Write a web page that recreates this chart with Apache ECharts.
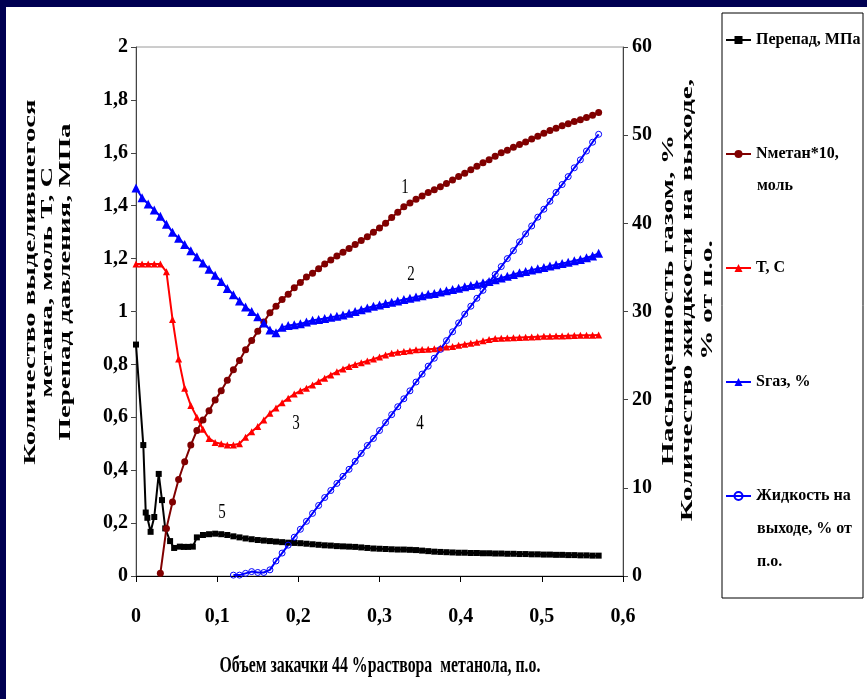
<!DOCTYPE html>
<html>
<head>
<meta charset="utf-8">
<title>Закачка раствора метанола</title>
<script src="https://cdn.jsdelivr.net/npm/echarts@6/dist/echarts.min.js"></script>
<style>
    html, body { margin: 0; padding: 0; background: #fff; }
    /* тёмно-синяя рамка слайда сверху и слева */
    #main { width: 867px; height: 699px; background: #fff; box-shadow: inset 6px 7px 0 #000052; }
</style>
</head>
<body>
<div id="main"></div>
<script type="text/javascript">
// общая сетка по объёму закачки, п.о.
var xGrid = [
    0, 0.0075, 0.015, 0.0225, 0.03, 0.0375, 0.045, 0.0525, 0.06, 0.0675,
    0.075, 0.0825, 0.09, 0.0975, 0.105, 0.1125, 0.12, 0.1275, 0.135, 0.1425,
    0.15, 0.1575, 0.165, 0.1725, 0.18, 0.1875, 0.195, 0.2025, 0.21, 0.2175,
    0.225, 0.2325, 0.24, 0.2475, 0.255, 0.2625, 0.27, 0.2775, 0.285, 0.2925,
    0.3, 0.3075, 0.315, 0.3225, 0.33, 0.3375, 0.345, 0.3525, 0.36, 0.3675,
    0.375, 0.3825, 0.39, 0.3975, 0.405, 0.4125, 0.42, 0.4275, 0.435, 0.4425,
    0.45, 0.4575, 0.465, 0.4725, 0.48, 0.4875, 0.495, 0.5025, 0.51, 0.5175,
    0.525, 0.5325, 0.54, 0.5475, 0.555, 0.5625, 0.57
];

// 5 - перепад давления, МПа (свои точки в начале)
var dpXHead = [0, 0.009, 0.012, 0.014, 0.018, 0.0225, 0.028, 0.032, 0.036, 0.042, 0.047, 0.054, 0.059, 0.064, 0.07];
var dpYHead = [0.875, 0.495, 0.24, 0.22, 0.167, 0.223, 0.386, 0.287, 0.18, 0.132, 0.106, 0.111, 0.11, 0.11, 0.111];
var dpYTail = [ // от 0.075 по сетке
    0.146, 0.155, 0.158, 0.16, 0.158, 0.155, 0.15, 0.146, 0.142, 0.139,
    0.136, 0.134, 0.132, 0.13, 0.128, 0.126, 0.125, 0.124, 0.122, 0.12,
    0.118, 0.116, 0.115, 0.113, 0.112, 0.111, 0.11, 0.108, 0.106, 0.104,
    0.103, 0.102, 0.101, 0.1, 0.1, 0.099, 0.098, 0.096, 0.094, 0.092,
    0.091, 0.09, 0.089, 0.088, 0.088, 0.087, 0.087, 0.086, 0.086, 0.085,
    0.085, 0.084, 0.084, 0.083, 0.083, 0.082, 0.082, 0.081, 0.081, 0.08,
    0.08, 0.079, 0.079, 0.078, 0.078, 0.077, 0.077
];

// 1 - Nметан*10, моль
var nMetan = [
    null, null, null, null, 0.01, 0.18, 0.28, 0.365, 0.432, 0.495,
    0.55, 0.59, 0.625, 0.665, 0.70, 0.74, 0.78, 0.815, 0.855, 0.89,
    0.925, 0.96, 0.995, 1.02, 1.045, 1.065, 1.09, 1.11, 1.13, 1.145,
    1.162, 1.18, 1.195, 1.21, 1.224, 1.238, 1.253, 1.268, 1.283, 1.30,
    1.316, 1.334, 1.355, 1.375, 1.396, 1.41, 1.424, 1.437, 1.45, 1.46,
    1.472, 1.484, 1.497, 1.51, 1.523, 1.536, 1.549, 1.562, 1.574, 1.587,
    1.6, 1.61, 1.621, 1.631, 1.641, 1.652, 1.663, 1.674, 1.684, 1.693,
    1.702, 1.71, 1.718, 1.725, 1.733, 1.742, 1.752
];

// 3 - T, C
var temp = [
    1.18, 1.18, 1.18, 1.18, 1.18, 1.15, 0.97, 0.82, 0.71, 0.645,
    0.60, 0.555, 0.52, 0.505, 0.50, 0.495, 0.495, 0.50, 0.525, 0.545,
    0.565, 0.59, 0.615, 0.635, 0.655, 0.672, 0.688, 0.70, 0.71, 0.722,
    0.735, 0.748, 0.76, 0.772, 0.783, 0.792, 0.80, 0.806, 0.813, 0.82,
    0.828, 0.836, 0.842, 0.846, 0.849, 0.852, 0.855, 0.856, 0.857, 0.859,
    0.862, 0.866, 0.868, 0.872, 0.876, 0.88, 0.884, 0.889, 0.894, 0.898,
    0.899, 0.9, 0.901, 0.902, 0.903, 0.904, 0.905, 0.906, 0.906, 0.907,
    0.907, 0.908, 0.909, 0.91, 0.91, 0.91, 0.911
];

// 2 - Sгаз, %
var sGas = [
    44.0, 42.9, 42.2, 41.5, 40.8, 39.9, 39.0, 38.3, 37.6, 36.9,
    36.2, 35.5, 34.8, 34.1, 33.4, 32.6, 31.9, 31.2, 30.5, 30.0,
    29.4, 28.7, 27.9, 27.6, 28.2, 28.4, 28.5, 28.6, 28.8, 29.0,
    29.1, 29.2, 29.35, 29.45, 29.6, 29.8, 30.0, 30.2, 30.4, 30.6,
    30.75, 30.9, 31.05, 31.2, 31.35, 31.5, 31.65, 31.8, 31.95, 32.05,
    32.2, 32.35, 32.5, 32.65, 32.8, 32.95, 33.1, 33.25, 33.4, 33.6,
    33.8, 34.0, 34.2, 34.4, 34.55, 34.7, 34.85, 35.0, 35.15, 35.3,
    35.45, 35.6, 35.75, 35.9, 36.1, 36.3, 36.6
];

// 4 - жидкость на выходе, % от п.о.
var liquid = [
    null, null, null, null, null, null, null, null, null, null,
    null, null, null, null, null, null, 0.1, 0.1, 0.3, 0.5,
    0.4, 0.4, 0.7, 1.7, 2.6, 3.5, 4.4, 5.3, 6.2, 7.1,
    8.0, 8.9, 9.7, 10.5, 11.3, 12.1, 13.0, 13.9, 14.8, 15.6,
    16.5, 17.4, 18.3, 19.2, 20.1, 21.0, 22.0, 22.9, 23.8, 24.7,
    25.7, 26.7, 27.7, 28.7, 29.7, 30.6, 31.5, 32.4, 33.3, 34.2,
    35.1, 36.0, 36.9, 37.9, 38.8, 39.7, 40.7, 41.6, 42.5, 43.5,
    44.4, 45.3, 46.3, 47.2, 48.2, 49.2, 50.1
];

var names = ['Перепад, МПа', 'Nметан*10, моль', 'T, C', 'Sгаз, %', 'Жидкость на выходе, % от п.о.'];
var legendFirstLine = {
    'Перепад, МПа': 'Перепад, МПа',
    'Nметан*10, моль': 'Nметан*10,',
    'T, C': 'T, C',
    'Sгаз, %': 'Sгаз, %',
    'Жидкость на выходе, % от п.о.': 'Жидкость на'
};

function pairs(xs, ys) {
    var out = [];
    for (var i = 0; i < ys.length; i++) {
        if (ys[i] !== null) out.push([xs[i], ys[i]]);
    }
    return out;
}

function comma(v) {
    return String(parseFloat(v.toFixed(1))).replace('.', ',');
}

var dpX = dpXHead.concat(xGrid.slice(10));
var dpY = dpYHead.concat(dpYTail);

var serif = 'Liberation Serif';
var tickFont = { fontFamily: serif, fontWeight: 'bold', fontSize: 20, color: '#000' };
var legendFont = 'bold 16px "Liberation Serif"';

var myChart = echarts.init(document.getElementById('main'));

var option = {
    backgroundColor: 'transparent',
    animation: false,
    grid: { left: 136, top: 47, right: 244, bottom: 123, show: true, borderColor: '#9a9a9a', borderWidth: 1 },
    xAxis: {
        type: 'value', min: 0, max: 0.6, interval: 0.1,
        axisLine: { lineStyle: { color: '#000', width: 1 } },
        axisTick: { show: true, inside: false, length: 6, lineStyle: { color: '#000' } },
        axisLabel: Object.assign({ margin: 31, formatter: comma }, tickFont),
        splitLine: { show: false }
    },
    yAxis: [{
        type: 'value', min: 0, max: 2, interval: 0.2, position: 'left',
        axisLine: { show: true, lineStyle: { color: '#444' } },
        axisTick: { show: true, length: 5, lineStyle: { color: '#444' } },
        axisLabel: Object.assign({ margin: 8, formatter: comma }, tickFont),
        splitLine: { show: false }
    }, {
        type: 'value', min: 0, max: 60, interval: 10, position: 'right',
        axisLine: { show: true, lineStyle: { color: '#444' } },
        axisTick: { show: true, length: 5, lineStyle: { color: '#444' } },
        axisLabel: Object.assign({ margin: 9 }, tickFont),
        splitLine: { show: false }
    }],
    legend: {
        orient: 'vertical', left: 720, top: 25, itemGap: 94,
        itemWidth: 25, itemHeight: 10,
        data: names,
        formatter: function (n) { return legendFirstLine[n]; },
        textStyle: { fontFamily: serif, fontWeight: 'bold', fontSize: 16, lineHeight: 20, color: '#000' }
    },
    graphic: [
        { type: 'rect', z: 0, shape: { x: 722, y: 13, width: 141, height: 585 },
          style: { fill: '#fff', stroke: '#000', lineWidth: 1 } },
        // продолжения подписей легенды
        { type: 'text', x: 757, y: 186, style: { text: 'моль', font: legendFont, fill: '#000', align: 'left', verticalAlign: 'middle', textAlign: 'left', textVerticalAlign: 'middle' } },
        { type: 'text', x: 757, y: 529, style: { text: 'выходе, % от', font: legendFont, fill: '#000', align: 'left', verticalAlign: 'middle', textAlign: 'left', textVerticalAlign: 'middle' } },
        { type: 'text', x: 757, y: 562, style: { text: 'п.о.', font: legendFont, fill: '#000', align: 'left', verticalAlign: 'middle', textAlign: 'left', textVerticalAlign: 'middle' } },
        // номера кривых
        { type: 'text', x: 405, y: 188, scaleX: 0.75, style: { text: '1', font: '20px "Liberation Serif"', fill: '#000', align: 'center', verticalAlign: 'middle', textAlign: 'center', textVerticalAlign: 'middle' } },
        { type: 'text', x: 411, y: 275, scaleX: 0.75, style: { text: '2', font: '20px "Liberation Serif"', fill: '#000', align: 'center', verticalAlign: 'middle', textAlign: 'center', textVerticalAlign: 'middle' } },
        { type: 'text', x: 296, y: 424, scaleX: 0.75, style: { text: '3', font: '20px "Liberation Serif"', fill: '#000', align: 'center', verticalAlign: 'middle', textAlign: 'center', textVerticalAlign: 'middle' } },
        { type: 'text', x: 420, y: 424, scaleX: 0.75, style: { text: '4', font: '20px "Liberation Serif"', fill: '#000', align: 'center', verticalAlign: 'middle', textAlign: 'center', textVerticalAlign: 'middle' } },
        { type: 'text', x: 222, y: 513, scaleX: 0.75, style: { text: '5', font: '20px "Liberation Serif"', fill: '#000', align: 'center', verticalAlign: 'middle', textAlign: 'center', textVerticalAlign: 'middle' } },
        // подписи осей
        { type: 'text', x: 380, y: 666, scaleX: 0.66, style: { text: 'Объем закачки 44 %раствора  метанола, п.о.', font: 'bold 24px "Liberation Serif"', fill: '#000', align: 'center', verticalAlign: 'middle', textAlign: 'center', textVerticalAlign: 'middle' } },
        { type: 'text', x: 48, y: 282, rotation: Math.PI / 2, scaleX: 1.8, style: { text: 'Количество выделившегося\nметана, моль T, C\nПерепад давления, МПа', font: 'bold 16px "Liberation Serif"', lineHeight: 17.5, fill: '#000', align: 'center', verticalAlign: 'middle', textAlign: 'center', textVerticalAlign: 'middle' } },
        { type: 'text', x: 688, y: 300, rotation: Math.PI / 2, scaleX: 1.85, style: { text: 'Насыщенность газом, %\nКоличество жидкости на выходе,\n% от п.о.', font: 'bold 16px "Liberation Serif"', lineHeight: 19.5, fill: '#000', align: 'center', verticalAlign: 'middle', textAlign: 'center', textVerticalAlign: 'middle' } }
    ],
    series: [{
        name: names[0], type: 'line', yAxisIndex: 0, clip: false,
        data: pairs(dpX, dpY),
        symbol: 'rect', symbolSize: 6,
        lineStyle: { color: '#000', width: 2 },
        itemStyle: { color: '#000' }
    }, {
        name: names[1], type: 'line', yAxisIndex: 0, clip: false,
        data: pairs(xGrid, nMetan),
        symbol: 'circle', symbolSize: 7,
        lineStyle: { color: '#800000', width: 2 },
        itemStyle: { color: '#800000' }
    }, {
        name: names[2], type: 'line', yAxisIndex: 0, clip: false,
        data: pairs(xGrid, temp),
        symbol: 'triangle', symbolSize: 7,
        lineStyle: { color: '#ff0000', width: 2 },
        itemStyle: { color: '#ff0000' }
    }, {
        name: names[3], type: 'line', yAxisIndex: 1, clip: false,
        data: pairs(xGrid, sGas),
        symbol: 'triangle', symbolSize: 9,
        lineStyle: { color: '#0000ff', width: 2 },
        itemStyle: { color: '#0000ff' }
    }, {
        name: names[4], type: 'line', yAxisIndex: 1, clip: false,
        data: pairs(xGrid, liquid),
        symbol: 'circle', symbolSize: 6,
        lineStyle: { color: '#0000ff', width: 2 },
        itemStyle: { color: 'rgba(255,255,255,0)', borderColor: '#0000ff', borderWidth: 1 }
    }]
};

myChart.setOption(option);
</script>
</body>
</html>
